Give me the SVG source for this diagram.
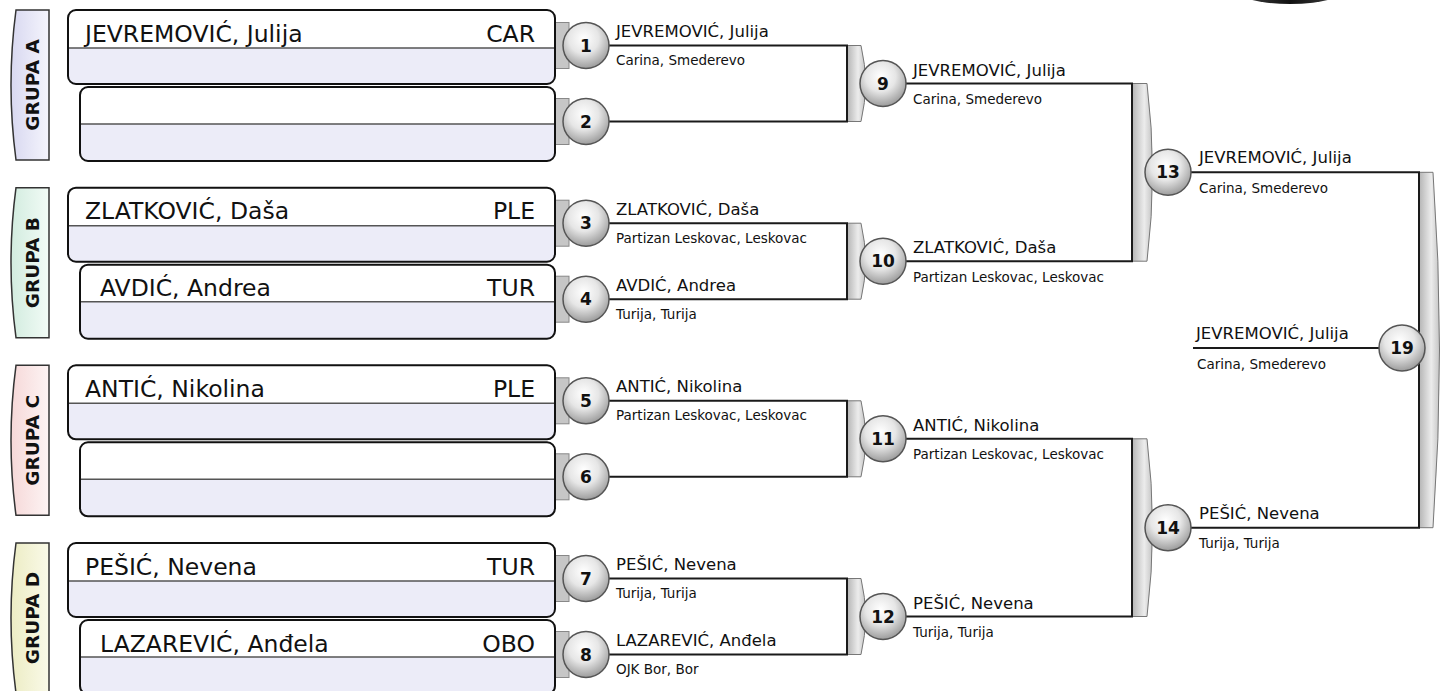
<svg xmlns="http://www.w3.org/2000/svg" xmlns:xlink="http://www.w3.org/1999/xlink" width="1444" height="691" viewBox="0 0 1444 691">
<defs>
<radialGradient id="ballG" cx="45%" cy="35%" r="65%"><stop offset="0" stop-color="#ffffff"/><stop offset="0.5" stop-color="#e6e6e6"/><stop offset="1" stop-color="#9c9c9c"/></radialGradient>
<linearGradient id="tabG" x1="0" y1="0" x2="1" y2="0"><stop offset="0" stop-color="#b4b4b4"/><stop offset="0.6" stop-color="#ececec"/><stop offset="1" stop-color="#c4c4c4"/></linearGradient>
<linearGradient id="gA" x1="0" y1="0" x2="1" y2="0"><stop offset="0" stop-color="#d8d8f0"/><stop offset="1" stop-color="#f5f5fd"/></linearGradient>
<linearGradient id="gB" x1="0" y1="0" x2="1" y2="0"><stop offset="0" stop-color="#d2ecdf"/><stop offset="1" stop-color="#f2fbf6"/></linearGradient>
<linearGradient id="gC" x1="0" y1="0" x2="1" y2="0"><stop offset="0" stop-color="#f6d8d8"/><stop offset="1" stop-color="#fdf4f4"/></linearGradient>
<linearGradient id="gD" x1="0" y1="0" x2="1" y2="0"><stop offset="0" stop-color="#ececc4"/><stop offset="1" stop-color="#fafae8"/></linearGradient>
<linearGradient id="logoG" x1="0" y1="0" x2="1" y2="0"><stop offset="0" stop-color="#bbb"/><stop offset="0.2" stop-color="#333"/><stop offset="0.5" stop-color="#111"/><stop offset="0.8" stop-color="#333"/><stop offset="1" stop-color="#bbb"/></linearGradient>
<g id="bx1"><rect width="487" height="74" rx="8" fill="#ececf8"/><path d="M0,38 V8 Q0,0 8,0 H479 Q487,0 487,8 V38 Z" fill="#fff"/><line x1="0" y1="38" x2="487" y2="38" stroke="#555" stroke-width="1.5"/><rect width="487" height="74" rx="8" fill="none" stroke="#111" stroke-width="2"/></g>
<g id="bx2"><rect width="475" height="74" rx="8" fill="#ececf8"/><path d="M0,37 V8 Q0,0 8,0 H467 Q475,0 475,8 V37 Z" fill="#fff"/><line x1="0" y1="37" x2="475" y2="37" stroke="#555" stroke-width="1.5"/><rect width="475" height="74" rx="8" fill="none" stroke="#111" stroke-width="2"/></g>
</defs>
<style>
text{font-family:"DejaVu Sans","Liberation Sans",sans-serif;fill:#111}
.grp{font-weight:bold;font-size:18.5px;text-anchor:middle}
.gt{stroke:#333;stroke-width:1.5}
.pn{font-size:23.5px}
.pc{font-size:23.5px;text-anchor:end}
.nm{font-size:16.5px}
.cl{font-size:13.5px}
.ball{fill:url(#ballG);stroke:#555;stroke-width:1.5}
.num{font-weight:bold;font-size:17px;text-anchor:middle}
.btab{fill:#c6c6c6;stroke:#888;stroke-width:1}
.tab{fill:url(#tabG);stroke:#777;stroke-width:1}
.ln{fill:none;stroke:#1a1a1a;stroke-width:2}
</style>
<rect width="1444" height="691" fill="#ffffff"/>
<ellipse id="logo" cx="1290" cy="-14" rx="60" ry="18" fill="url(#logoG)"/>

<g id="groupA"><path class="gt" fill="url(#gA)" d="M49,10 L16,10 Q6,85 16,160 L49,160 Z"/><text class="grp" transform="translate(38.5,85) rotate(-90)">GRUPA A</text></g>
<g id="groupB"><path class="gt" fill="url(#gB)" d="M49,187.7 L16,187.7 Q6,262.7 16,337.7 L49,337.7 Z"/><text class="grp" transform="translate(38.5,262.7) rotate(-90)">GRUPA B</text></g>
<g id="groupC"><path class="gt" fill="url(#gC)" d="M49,365.3 L16,365.3 Q6,440.3 16,515.3 L49,515.3 Z"/><text class="grp" transform="translate(38.5,440.3) rotate(-90)">GRUPA C</text></g>
<g id="groupD"><path class="gt" fill="url(#gD)" d="M49,543 L16,543 Q6,618 16,693 L49,693 Z"/><text class="grp" transform="translate(38.5,618) rotate(-90)">GRUPA D</text></g>

<g id="brackets">
<rect class="btab" x="555" y="22.5" width="14" height="46"/>
<rect class="btab" x="555" y="98.5" width="14" height="46"/>
<rect class="btab" x="555" y="200.2" width="14" height="46"/>
<rect class="btab" x="555" y="276.2" width="14" height="46"/>
<rect class="btab" x="555" y="377.8" width="14" height="46"/>
<rect class="btab" x="555" y="453.8" width="14" height="46"/>
<rect class="btab" x="555" y="555.5" width="14" height="46"/>
<rect class="btab" x="555" y="631.5" width="14" height="46"/>
<path class="tab" d="M847,45.5 L861,45.5 Q870,83.5 861,121.5 L847,121.5 Z"/>
<path class="tab" d="M847,223.2 L861,223.2 Q870,261.2 861,299.2 L847,299.2 Z"/>
<path class="tab" d="M847,400.8 L861,400.8 Q870,438.8 861,476.8 L847,476.8 Z"/>
<path class="tab" d="M847,578.5 L861,578.5 Q870,616.5 861,654.5 L847,654.5 Z"/>
<path class="tab" d="M1132,83.5 L1147,83.5 Q1158,172.3 1147,261.2 L1132,261.2 Z"/>
<path class="tab" d="M1132,438.8 L1147,438.8 Q1158,527.7 1147,616.5 L1132,616.5 Z"/>
<path class="tab" d="M1419,172.3 L1433,172.3 Q1446,350 1433,527.7 L1419,527.7 Z"/>
</g>

<g id="boxes">
<g id="p1"><use xlink:href="#bx1" x="68" y="10"/><text class="pn" x="85" y="41.5">JEVREMOVIĆ, Julija</text><text class="pc" x="535" y="41.5">CAR</text></g>
<g id="p2"><use xlink:href="#bx2" x="80" y="87"/></g>
<g id="p3"><use xlink:href="#bx1" x="68" y="187.7"/><text class="pn" x="85" y="219.2">ZLATKOVIĆ, Daša</text><text class="pc" x="535" y="219.2">PLE</text></g>
<g id="p4"><use xlink:href="#bx2" x="80" y="264.7"/><text class="pn" x="100" y="296.2">AVDIĆ, Andrea</text><text class="pc" x="535" y="296.2">TUR</text></g>
<g id="p5"><use xlink:href="#bx1" x="68" y="365.3"/><text class="pn" x="85" y="396.8">ANTIĆ, Nikolina</text><text class="pc" x="535" y="396.8">PLE</text></g>
<g id="p6"><use xlink:href="#bx2" x="80" y="442.3"/></g>
<g id="p7"><use xlink:href="#bx1" x="68" y="543"/><text class="pn" x="85" y="574.5">PEŠIĆ, Nevena</text><text class="pc" x="535" y="574.5">TUR</text></g>
<g id="p8"><use xlink:href="#bx2" x="80" y="620"/><text class="pn" x="100" y="651.5">LAZAREVIĆ, Anđela</text><text class="pc" x="535" y="651.5">OBO</text></g>
</g>

<g id="connectors">
<path class="ln" d="M600,45.5 H847 V121.5 H600"/>
<path class="ln" d="M600,223.2 H847 V299.2 H600"/>
<path class="ln" d="M600,400.8 H847 V476.8 H600"/>
<path class="ln" d="M600,578.5 H847 V654.5 H600"/>
<path class="ln" d="M900,83.5 H1132 V261.2 H900"/>
<path class="ln" d="M900,438.8 H1132 V616.5 H900"/>
<path class="ln" d="M1185,172.3 H1419 V527.7 H1185"/>
<path class="ln" d="M1193,348 H1390"/>
</g>

<g id="labels">
<text class="nm" x="616" y="37">JEVREMOVIĆ, Julija</text><text class="cl" x="616" y="65">Carina, Smederevo</text>
<text class="nm" x="616" y="214.7">ZLATKOVIĆ, Daša</text><text class="cl" x="616" y="242.7">Partizan Leskovac, Leskovac</text>
<text class="nm" x="616" y="290.7">AVDIĆ, Andrea</text><text class="cl" x="616" y="318.7">Turija, Turija</text>
<text class="nm" x="616" y="392.3">ANTIĆ, Nikolina</text><text class="cl" x="616" y="420.3">Partizan Leskovac, Leskovac</text>
<text class="nm" x="616" y="570">PEŠIĆ, Nevena</text><text class="cl" x="616" y="598">Turija, Turija</text>
<text class="nm" x="616" y="646">LAZAREVIĆ, Anđela</text><text class="cl" x="616" y="674">OJK Bor, Bor</text>
<text class="nm" x="913" y="75.5">JEVREMOVIĆ, Julija</text><text class="cl" x="913" y="104">Carina, Smederevo</text>
<text class="nm" x="913" y="253.2">ZLATKOVIĆ, Daša</text><text class="cl" x="913" y="281.7">Partizan Leskovac, Leskovac</text>
<text class="nm" x="913" y="430.8">ANTIĆ, Nikolina</text><text class="cl" x="913" y="459.3">Partizan Leskovac, Leskovac</text>
<text class="nm" x="913" y="608.5">PEŠIĆ, Nevena</text><text class="cl" x="913" y="637">Turija, Turija</text>
<text class="nm" x="1199" y="163">JEVREMOVIĆ, Julija</text><text class="cl" x="1199" y="192.5">Carina, Smederevo</text>
<text class="nm" x="1199" y="518.5">PEŠIĆ, Nevena</text><text class="cl" x="1199" y="548">Turija, Turija</text>
<text class="nm" x="1196" y="338.5">JEVREMOVIĆ, Julija</text><text class="cl" x="1197" y="368.5">Carina, Smederevo</text>
</g>

<g id="m1"><circle class="ball" cx="586" cy="45.5" r="23"/><text class="num" x="586" y="51.5">1</text></g>
<g id="m2"><circle class="ball" cx="586" cy="121.5" r="23"/><text class="num" x="586" y="127.5">2</text></g>
<g id="m3"><circle class="ball" cx="586" cy="223.2" r="23"/><text class="num" x="586" y="229.2">3</text></g>
<g id="m4"><circle class="ball" cx="586" cy="299.2" r="23"/><text class="num" x="586" y="305.2">4</text></g>
<g id="m5"><circle class="ball" cx="586" cy="400.8" r="23"/><text class="num" x="586" y="406.8">5</text></g>
<g id="m6"><circle class="ball" cx="586" cy="476.8" r="23"/><text class="num" x="586" y="482.8">6</text></g>
<g id="m7"><circle class="ball" cx="586" cy="578.5" r="23"/><text class="num" x="586" y="584.5">7</text></g>
<g id="m8"><circle class="ball" cx="586" cy="654.5" r="23"/><text class="num" x="586" y="660.5">8</text></g>
<g id="m9"><circle class="ball" cx="883" cy="83.5" r="23"/><text class="num" x="883" y="89.5">9</text></g>
<g id="m10"><circle class="ball" cx="883" cy="261.2" r="23"/><text class="num" x="883" y="267.2">10</text></g>
<g id="m11"><circle class="ball" cx="883" cy="438.8" r="23"/><text class="num" x="883" y="444.8">11</text></g>
<g id="m12"><circle class="ball" cx="883" cy="616.5" r="23"/><text class="num" x="883" y="622.5">12</text></g>
<g id="m13"><circle class="ball" cx="1168" cy="172.3" r="23"/><text class="num" x="1168" y="178.3">13</text></g>
<g id="m14"><circle class="ball" cx="1168" cy="527.7" r="23"/><text class="num" x="1168" y="533.7">14</text></g>
<g id="m19"><circle class="ball" cx="1402" cy="348" r="23"/><text class="num" x="1402" y="354">19</text></g>
</svg>
